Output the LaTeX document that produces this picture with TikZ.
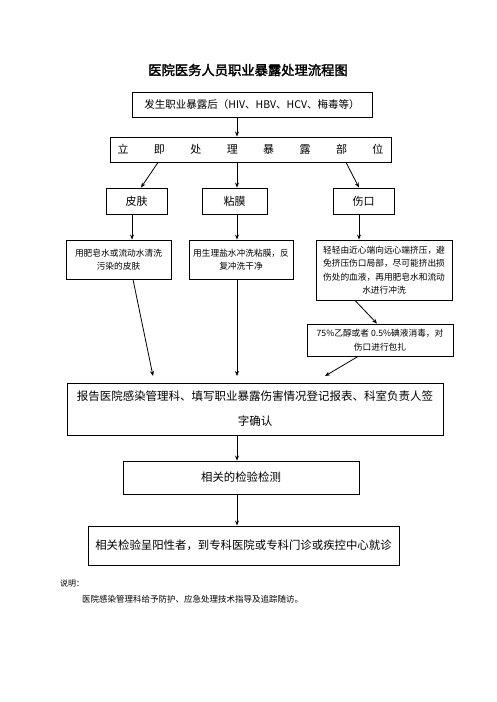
\documentclass[tikz,border=0pt]{standalone}
\usepackage{fontspec}
\usetikzlibrary{arrows.meta}
\newfontfamily\cjk{Noto Sans CJK SC}
\newfontfamily\cjkb[FakeBold=2]{Noto Sans CJK SC}
\begin{document}
\begin{tikzpicture}[x=1pt,y=-1pt,
  box/.style={draw,line width=0.9pt,inner sep=0pt,align=center,font=\cjk\fontsize{11}{14}\selectfont},
  small/.style={box,font=\cjk\fontsize{8.7}{13.5}\selectfont},
  arr/.style={line width=0.8pt,-{Stealth[length=5pt,width=4pt]}},
  ]
\useasboundingbox (0,0) rectangle (496,702);
\node[font=\cjkb\fontsize{13.3}{16}\selectfont] (title) at (248,70) {医院医务人员职业暴露处理流程图};
\node[box,minimum width=240pt,minimum height=25pt,font=\cjk\fontsize{10.5}{13}\selectfont] (b1) at (252,104.5) {发生职业暴露后（HIV、HBV、HCV、梅毒等）};
\node[box,minimum width=281pt,minimum height=25pt] (b2) at (250.5,149.5) {\makebox[266pt][s]{立\hfill 即\hfill 处\hfill 理\hfill 暴\hfill 露\hfill 部\hfill 位}};
\node[box,minimum width=61pt,minimum height=26pt] (skin) at (136.5,201) {皮肤};
\node[box,minimum width=65pt,minimum height=26pt] (muc) at (234.5,201) {粘膜};
\node[box,minimum width=61pt,minimum height=26pt] (wound) at (363.5,201) {伤口};
\node[small,minimum width=105pt,minimum height=39pt] (t1) at (118.5,259.5) {用肥皂水或流动水清洗\\污染的皮肤};
\node[small,minimum width=104pt,minimum height=39pt] (t2) at (241,259.5) {用生理盐水冲洗粘膜，反\\复冲洗干净};
\node[small,minimum width=136pt,minimum height=60pt] (t3) at (384,270) {轻轻由近心端向远心端挤压，避\\免挤压伤口局部，尽可能挤出损\\伤处的血液，再用肥皂水和流动\\水进行冲洗};
\node[small,minimum width=146pt,minimum height=32pt] (t4) at (380,340) {75\%乙醇或者 0.5\%碘液消毒，对\\伤口进行包扎};
\node[box,minimum width=376pt,minimum height=52pt,font=\cjk\fontsize{11.5}{25}\selectfont] (rep) at (255,409) {报告医院感染管理科、填写职业暴露伤害情况登记报表、科室负责人签\\字确认};
\node[box,minimum width=236pt,minimum height=33pt,font=\cjk\fontsize{11.4}{14}\selectfont] (chk) at (241,477.5) {相关的检验检测};
\node[box,minimum width=311pt,minimum height=39pt,font=\cjk\fontsize{11.4}{14}\selectfont] (fin) at (243.5,545.5) {相关检验呈阳性者，到专科医院或专科门诊或疾控中心就诊};
\node[anchor=west,inner sep=0pt,font=\cjk\fontsize{8}{10}\selectfont] (n1) at (60,583) {说明：};
\node[anchor=west,inner sep=0pt,font=\cjk\fontsize{8.5}{10}\selectfont] (n2) at (82,599) {医院感染管理科给予防护、应急处理技术指导及追踪随访。};
% helper x positions
\coordinate (cx) at (237,0);
\coordinate (c158) at (158,0);
\coordinate (c141) at (141,0);
\coordinate (c346) at (346,0);
\coordinate (c359) at (359,0);
\coordinate (c132) at (132,0);
\coordinate (c355) at (355,0);
\coordinate (c377) at (377,0);
\coordinate (c133) at (133,0);
\coordinate (c358) at (358,0);
\coordinate (r1) at (153,376);
\coordinate (r2) at (237,376);
\coordinate (r3) at (325,376);
\draw[arr] (b1.south -| cx) -- (b2.north -| cx);
\draw[arr] (b2.south -| c158) -- (skin.north -| c141);
\draw[arr] (b2.south -| cx) -- (muc.north -| cx);
\draw[arr] (b2.south -| c346) -- (wound.north -| c359);
\draw[arr] (skin.south -| c132) -- (t1.north -| c132);
\draw[arr] (muc.south -| cx) -- (t2.north -| cx);
\draw[arr] (wound.south -| c359) -- (t3.north -| c359);
\draw[arr] (t3.south -| c355) -- (t4.north -| c377);
\draw[arr] (t1.south -| c133) -- (r1);
\draw[arr] (t2.south -| cx) -- (r2);
\draw[arr] (t4.south -| c358) -- (r3);
\draw[arr] (rep.south -| cx) -- (chk.north -| cx);
\draw[arr] (chk.south -| cx) -- (fin.north -| cx);
\end{tikzpicture}
\end{document}
